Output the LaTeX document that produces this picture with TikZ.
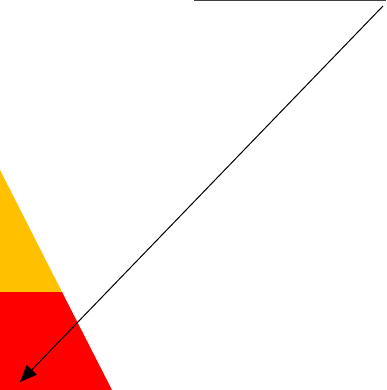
\documentclass[tikz,border=0pt]{standalone}
\usetikzlibrary{arrows.meta}
\definecolor{ygold}{HTML}{FFC000}
\definecolor{rred}{HTML}{FF0000}
\tikzset{
  conn/.style={draw=black, line width=1pt, -{Triangle[length=17pt,width=14pt]}},
  topline/.style={draw=black!75, line width=1.2pt}
}
\begin{document}
\begin{tikzpicture}[x=1pt,y=-1pt]
\useasboundingbox (0,0) rectangle (386,390);
% yellow band
\fill[ygold] (0,170) -- (62,292) -- (0,292) -- cycle;
% red band
\fill[rred] (0,292) -- (62,292) -- (112,390) -- (0,390) -- cycle;
% top line
\coordinate (tl) at (194,0.6);
\coordinate (tr) at (386,0.6);
\draw[topline] (tl) -- (tr);
% arrow
\coordinate (s) at (383,6);
\coordinate (e) at (20,382);
\draw[conn] (s) -- (e);
\end{tikzpicture}
\end{document}
